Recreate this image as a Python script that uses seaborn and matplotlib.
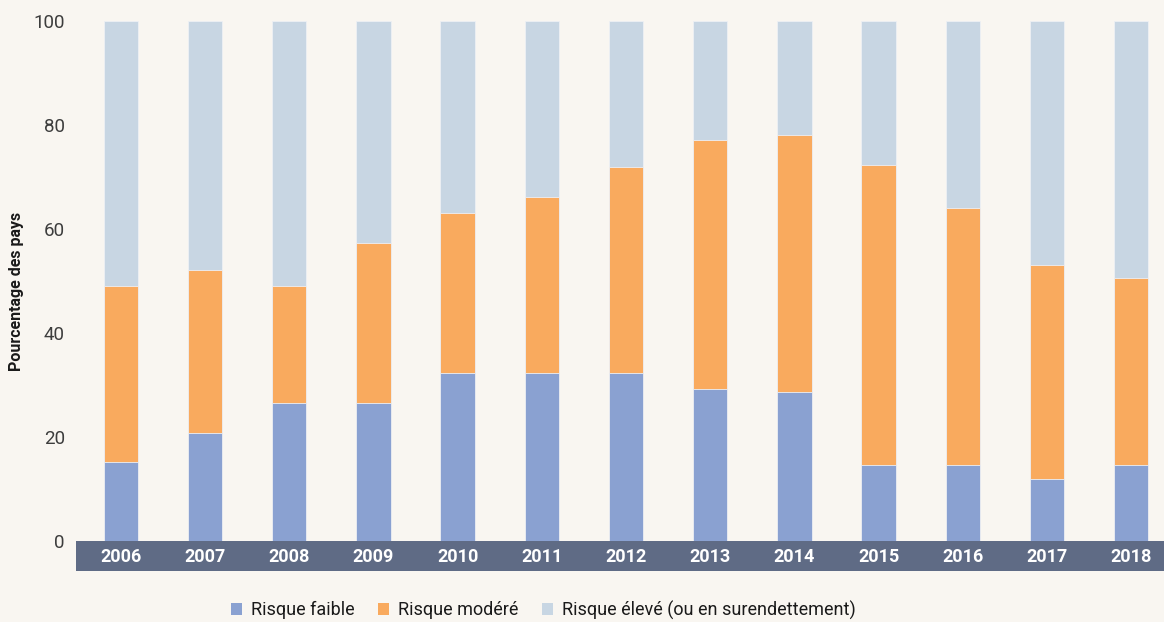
import matplotlib
matplotlib.use("Agg")
import matplotlib.pyplot as plt
from matplotlib.patches import Rectangle
import seaborn as sns
import pandas as pd

years = ["2006", "2007", "2008", "2009", "2010", "2011", "2012",
         "2013", "2014", "2015", "2016", "2017", "2018"]
faible = [15.1, 20.8, 26.6, 26.6, 32.3, 32.3, 32.3, 29.2, 28.7, 14.6, 14.6, 12.0, 14.6]
modere = [33.9, 31.3, 22.4, 30.7, 30.7, 33.8, 39.6, 47.9, 49.4, 57.7, 49.4, 41.0, 35.9]
eleve = [51.0, 47.9, 51.0, 42.7, 37.0, 33.9, 28.1, 22.9, 21.9, 27.7, 36.0, 47.0, 49.5]
series_names = ["Risque faible", "Risque modéré", "Risque élevé (ou en surendettement)"]
colors = ["#8AA1D1", "#F9AA5E", "#C8D6E3"]
yticks = [0, 20, 40, 60, 80, 100]

BG = "#F9F6F1"
BAND = "#5F6B85"

sns.set_theme(style="white")
plt.rcParams["font.family"] = ["Roboto", "DejaVu Sans"]

df = pd.DataFrame({"year": years, "faible": faible, "modere": modere, "eleve": eleve})
df["c1"] = df["faible"]
df["c2"] = df["faible"] + df["modere"]
df["c3"] = df["c2"] + df["eleve"]

W, H = 1164, 622
fig = plt.figure(figsize=(W / 100, H / 100), dpi=100, facecolor=BG)
ax_left, ax_right = 76 / W, 1.0
ax_bottom, ax_top = 1 - 541 / H, 1 - 20.7 / H
ax = fig.add_axes([ax_left, ax_bottom, ax_right - ax_left, ax_top - ax_bottom])
ax.set_facecolor(BG)

for col, c in zip(["c3", "c2", "c1"], colors[::-1]):
    sns.barplot(data=df, x="year", y=col, order=years, color=c, width=0.41,
                saturation=1, edgecolor="#EEF0F4", linewidth=0.6, ax=ax, zorder=2)

ax.set_xlim(-0.532, 12.39)
ax.set_ylim(0, 100)
ax.set_yticks(yticks)
ax.set_yticklabels([str(t) for t in yticks], fontsize=13.5, color="#3d3d3d")
ax.tick_params(axis="y", length=0, pad=8)
ax.tick_params(axis="x", length=0, pad=5, labelsize=13, labelcolor="white")
for lab in ax.get_xticklabels():
    lab.set_fontweight("bold")
ax.set_xlabel("")
ax.set_ylabel("Pourcentage des pays", fontsize=11.5, fontweight="bold", color="#1a1a1a")
ax.yaxis.set_label_coords(-52 / (W - 76), 0.48)
for s in ax.spines.values():
    s.set_visible(False)
ax.grid(False)

band_h = 30 / (541 - 20.7)
ax.add_patch(Rectangle((0, -band_h), 1, band_h, transform=ax.transAxes,
                       facecolor=BAND, edgecolor="none", clip_on=False, zorder=0.5))

handles = [Rectangle((0, 0), 1, 1, facecolor=c, edgecolor="none") for c in colors]
fig.legend(handles, series_names, loc="center", bbox_to_anchor=(543.5 / W, 1 - 610 / H),
           ncol=3, frameon=False, fontsize=13, handlelength=0.6, handleheight=0.6,
           handletextpad=0.5, columnspacing=1.3, labelcolor="#1a1a1a")

fig.savefig("out.png", dpi=100, facecolor=BG)
